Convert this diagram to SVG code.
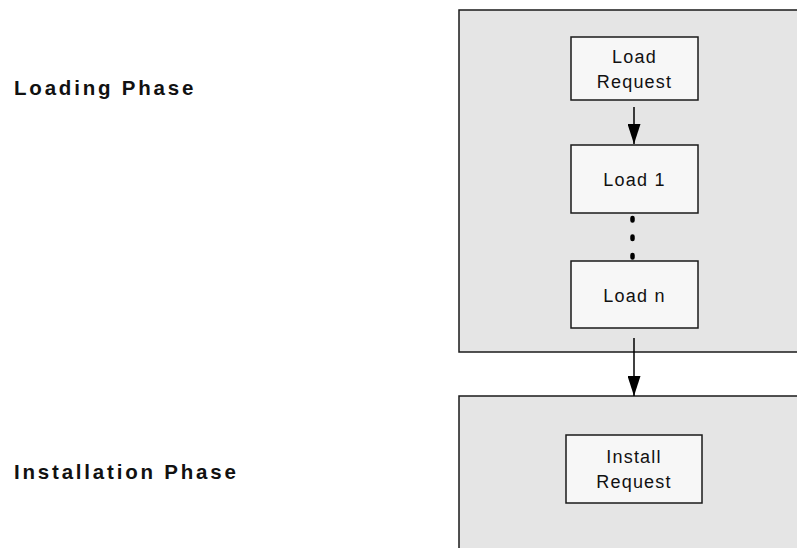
<svg xmlns="http://www.w3.org/2000/svg" width="797" height="548" viewBox="0 0 797 548">
<defs>
<style>
.phase{fill:#e5e5e5;stroke:#1a1a1a;stroke-width:1.5}
.node{fill:#f7f7f7;stroke:#1a1a1a;stroke-width:1.5}
.lbl{font-family:"Liberation Sans",Arial,sans-serif;font-size:18px;letter-spacing:1.2px;fill:#111;text-anchor:middle}
.hdr{font-family:"Liberation Sans",Arial,sans-serif;font-size:20.5px;font-weight:bold;letter-spacing:2.8px;fill:#111}
.conn{stroke:#000;stroke-width:1.5;fill:none}
</style>
<marker id="arr" viewBox="0 0 20 13" refX="20" refY="6.5" markerWidth="20" markerHeight="13" markerUnits="userSpaceOnUse" orient="auto">
<path d="M0,0 L20,6.5 L0,13 Z" fill="#000"/>
</marker>
</defs>
<rect width="797" height="548" fill="#fff"/>
<g id="loading-phase">
<rect class="phase" x="459" y="10" width="350" height="342"/>
<text class="hdr" x="14" y="95">Loading Phase</text>
</g>
<g id="installation-phase">
<rect class="phase" x="459" y="396" width="350" height="170"/>
<text class="hdr" x="14" y="479">Installation Phase</text>
</g>
<g id="load-request">
<rect class="node" x="571" y="37" width="127" height="63"/>
<text class="lbl" x="634.5" y="62.5">Load</text>
<text class="lbl" x="634.5" y="88">Request</text>
</g>
<g id="load-1">
<rect class="node" x="571" y="145" width="127" height="68"/>
<text class="lbl" x="634.5" y="186">Load 1</text>
</g>
<g id="load-n">
<rect class="node" x="571" y="261" width="127" height="67"/>
<text class="lbl" x="634.5" y="302">Load n</text>
</g>
<g id="install-request">
<rect class="node" x="566" y="435" width="136" height="68"/>
<text class="lbl" x="634" y="463">Install</text>
<text class="lbl" x="634" y="488">Request</text>
</g>
<g id="connectors">
<line class="conn" x1="634" y1="107" x2="634" y2="144" marker-end="url(#arr)"/>
<line x1="632.5" y1="218" x2="632.5" y2="259" stroke="#000" stroke-width="4.5" stroke-linecap="round" stroke-dasharray="2.5 16"/>
<line class="conn" x1="634" y1="338" x2="634" y2="396" marker-end="url(#arr)"/>
</g>
</svg>
